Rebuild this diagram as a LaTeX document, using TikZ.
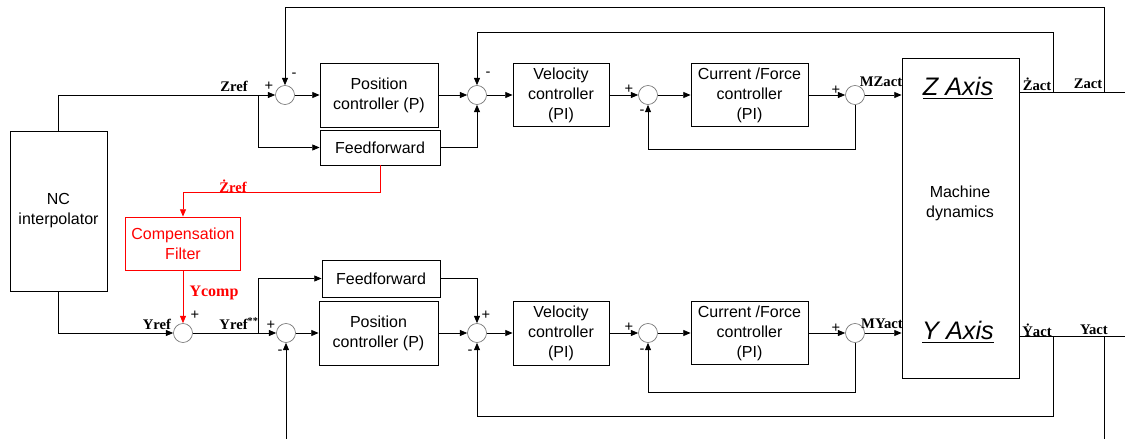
\documentclass[tikz,border=0pt]{standalone}
\usepackage{fontspec}
\setmainfont{Liberation Sans}
\newfontfamily\lblfont{Liberation Serif}
\usetikzlibrary{positioning,calc,arrows.meta}

\tikzset{
  blk/.style={draw, line width=0.6pt, inner sep=0pt, align=center, font=\fontsize{12}{15}\selectfont},
  sumpt/.style={draw=black!55, circle, minimum size=14.25pt, inner sep=0pt, line width=0.5pt},
  lbl/.style={font=\lblfont\bfseries\fontsize{11}{11}\selectfont, inner sep=0pt},
  sgn/.style={font=\fontsize{11}{11}\selectfont, inner sep=0pt},
  wire/.style={line width=0.6pt},
}

\begin{document}
\begin{tikzpicture}[x=0.75pt, y=-0.75pt, >={Triangle[length=5.5pt,width=4.5pt]}]
    \useasboundingbox (0,0) rectangle (1125,439);

    % blocks
    \node[blk, minimum width=72.75pt, minimum height=120pt] (nc) at (58.5,211) {NC\\interpolator};
    \node[blk, minimum width=88.5pt, minimum height=48pt] (posz) at (379,95) {Position\\controller (P)};
    \node[blk, minimum width=90pt, minimum height=26.25pt] (ffz) at (380,147.5) {Feedforward};
    \node[blk, minimum width=72pt, minimum height=47.25pt] (velz) at (561,95) {Velocity\\controller\\(PI)};
    \node[blk, minimum width=87.75pt, minimum height=47.25pt] (curz) at (749.5,95) {Current /Force\\controller\\(PI)};
    \node[blk, minimum width=87.75pt, minimum height=240pt] (mach) at (960.5,218) {};
    \node[blk, draw=red, text=red, minimum width=86.25pt, minimum height=39.75pt] (comp) at (183,243.5) {Compensation\\Filter};
    \node[blk, minimum width=88.5pt, minimum height=27.75pt] (ffy) at (381,278.5) {Feedforward};
    \node[blk, minimum width=89.25pt, minimum height=48pt] (posy) at (378.5,333) {Position\\controller (P)};
    \node[blk, minimum width=72pt, minimum height=48pt] (vely) at (561,333) {Velocity\\controller\\(PI)};
    \node[blk, minimum width=87.75pt, minimum height=47.25pt] (cury) at (749.5,333) {Current /Force\\controller\\(PI)};

    \node[align=center, font=\fontsize{12}{15}\selectfont] (machtxt) at (960,203) {Machine\\dynamics};
    \node[font=\itshape\fontsize{19}{19}\selectfont] (zaxis) at (958,88) {\underline{Z Axis}};
    \node[font=\itshape\fontsize{19}{19}\selectfont] (yaxis) at (958,332) {\underline{Y Axis}};

    % summing points
    \node[sumpt] (sz1) at (285,95) {};
    \node[sumpt] (sz2) at (477,95) {};
    \node[sumpt] (sz3) at (648,95) {};
    \node[sumpt] (sz4) at (855,95) {};
    \node[sumpt] (sy0) at (183,333) {};
    \node[sumpt] (sy1) at (286,333) {};
    \node[sumpt] (sy2) at (477,333) {};
    \node[sumpt] (sy3) at (648,333) {};
    \node[sumpt] (sy4) at (855,333) {};

    % corner points
    \coordinate (zsplit) at (258,95);
    \coordinate (ysplit) at (258,333);
    \coordinate (zil) at (855,149);
    \coordinate (yil) at (855,392);
    \coordinate (zout) at (1125,92);
    \coordinate (yout) at (1125,336);
    \coordinate (zfb1) at (1104,7);
    \coordinate (zfb2) at (1053,32);
    \coordinate (yfb2) at (1053,416);
    \coordinate (yfb1) at (1104,439);
    \coordinate (yfb0) at (286,439);
    \coordinate (zdr) at (380,192);

    % Z axis loop
    \draw[wire,->] (nc.north) |- (sz1.west);
    \draw[wire,->] (zsplit) |- (ffz.west);
    \draw[wire,->] (sz1.east) -- (posz.west);
    \draw[wire,->] (posz.east) -- (sz2.west);
    \draw[wire,->] (ffz.east) -| (sz2.south);
    \draw[wire,->] (sz2.east) -- (velz.west);
    \draw[wire,->] (velz.east) -- (sz3.west);
    \draw[wire,->] (sz3.east) -- (curz.west);
    \draw[wire,->] (curz.east) -- (sz4.west);
    \draw[wire,->] (sz4.east) -- (sz4.east -| mach.west);
    \draw[wire,->] (sz4.south) -- (zil) -| (sz3.south);
    \draw[wire] (mach.east |- zout) -- (zout);
    \draw[wire,->] (zfb1 |- zout) -- (zfb1) -| (sz1.north);
    \draw[wire,->] (zfb2 |- zout) -- (zfb2) -| (sz2.north);

    % compensation path
    \draw[wire,red,->] (ffz.south) |- (zdr) -| (comp.north);
    \draw[wire,red,->] (comp.south) -- (sy0.north);

    % Y axis loop
    \draw[wire,->] (nc.south) |- (sy0.west);
    \draw[wire,->] (sy0.east) -- (sy1.west);
    \draw[wire,->] (ysplit) |- (ffy.west);
    \draw[wire,->] (sy1.east) -- (posy.west);
    \draw[wire,->] (posy.east) -- (sy2.west);
    \draw[wire,->] (ffy.east) -| (sy2.north);
    \draw[wire,->] (sy2.east) -- (vely.west);
    \draw[wire,->] (vely.east) -- (sy3.west);
    \draw[wire,->] (sy3.east) -- (cury.west);
    \draw[wire,->] (cury.east) -- (sy4.west);
    \draw[wire,->] (sy4.east) -- (sy4.east -| mach.west);
    \draw[wire,->] (sy4.south) -- (yil) -| (sy3.south);
    \draw[wire] (mach.east |- yout) -- (yout);
    \draw[wire,->] (yfb2 |- yout) -- (yfb2) -| (sy2.south);
    \draw[wire] (yfb1 |- yout) -- (yfb1);
    \draw[wire,->] (yfb0) -- (sy1.south);

    % signal labels
    \node[lbl] (lzref) at (234,86) {Zref};
    \node[lbl] (lmz) at (881,82) {MZact};
    \node[lbl] (lzd) at (1037,84) {Żact};
    \node[lbl] (lz) at (1088,84) {Zact};
    \node[lbl, text=red] (lzdref) at (233,186) {Żref};
    \node[lbl, text=red, font=\lblfont\bfseries\fontsize{12}{12}\selectfont] (lycomp) at (214,293) {Ycomp};
    \node[lbl] (lyref) at (157,324) {Yref};
    \node[lbl] (lyref2) at (239,324) {Yref\textsuperscript{**}};
    \node[lbl] (lmy) at (882,324) {MYact};
    \node[lbl] (lyd) at (1037,330) {Ẏact};
    \node[lbl] (ly) at (1094,330) {Yact};

    % signs
    \node[sgn] (p1) at (269,86) {+};
    \node[sgn] (m1) at (294,75) {-};
    \node[sgn] (m2) at (488,74) {-};
    \node[sgn] (p3) at (629,89) {+};
    \node[sgn] (m3) at (642,112) {-};
    \node[sgn] (p4) at (836,90) {+};
    \node[sgn] (p5) at (195,315) {+};
    \node[sgn] (p6) at (271,325) {+};
    \node[sgn] (m6) at (280,352) {-};
    \node[sgn] (p7) at (486,315) {+};
    \node[sgn] (m7) at (470,352) {-};
    \node[sgn] (p8) at (629,327) {+};
    \node[sgn] (m8) at (642,351) {-};
    \node[sgn] (p9) at (836,328) {+};
\end{tikzpicture}
\end{document}
